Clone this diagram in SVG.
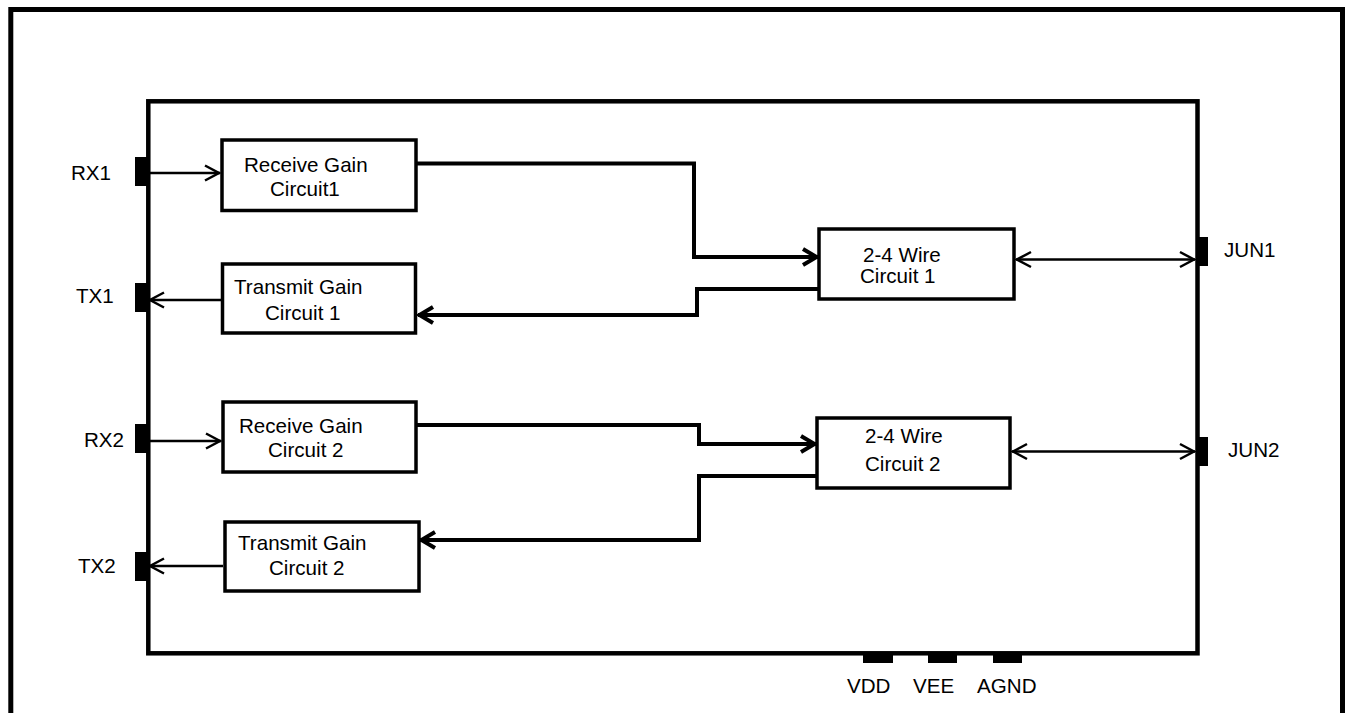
<svg xmlns="http://www.w3.org/2000/svg" width="1346" height="713" viewBox="0 0 1346 713">
<style>
text{font-family:"Liberation Sans",Arial,sans-serif;font-size:20.6px;fill:#000}
.box{fill:#fff;stroke:#000;stroke-width:3.5}
.pin{fill:#000}
.thin{fill:none;stroke:#000;stroke-width:2.5}
.thick{fill:none;stroke:#000;stroke-width:4;stroke-linejoin:miter}
</style>
<defs>
<marker id="aThin" markerUnits="userSpaceOnUse" markerWidth="24" markerHeight="24" viewBox="-20 -12 24 24" refX="0" refY="0" orient="auto-start-reverse">
<path d="M-15,-7.5 L-1,0 L-15,7.5" fill="none" stroke="#000" stroke-width="2.5"/>
</marker>
<marker id="aThick" markerUnits="userSpaceOnUse" markerWidth="24" markerHeight="24" viewBox="-20 -12 24 24" refX="0" refY="0" orient="auto-start-reverse">
<path d="M-15,-8 L-1.5,0 L-15,8" fill="none" stroke="#000" stroke-width="4"/>
</marker>
</defs>
<rect width="1346" height="713" fill="#fff"/>
<path d="M10.8,716 V9.5 H1342.5 V716" fill="none" stroke="#000" stroke-width="5"/>
<rect id="chip" x="148.3" y="101.3" width="1049.2" height="552" fill="none" stroke="#000" stroke-width="4.5"/>

<g id="pins">
<rect class="pin" x="135" y="157" width="13" height="29"/>
<rect class="pin" x="135" y="283" width="13" height="29"/>
<rect class="pin" x="135" y="424" width="13" height="29"/>
<rect class="pin" x="135" y="552" width="13" height="29"/>
<rect class="pin" x="1197" y="237" width="11" height="29"/>
<rect class="pin" x="1197" y="437" width="11" height="29"/>
<rect class="pin" x="863" y="653" width="30" height="10"/>
<rect class="pin" x="928" y="653" width="29" height="10"/>
<rect class="pin" x="993" y="653" width="29" height="10"/>
</g>
<g id="pin-labels">
<text x="71" y="180">RX1</text>
<text x="76" y="303">TX1</text>
<text x="84" y="447">RX2</text>
<text x="78" y="573">TX2</text>
<text x="1224" y="257">JUN1</text>
<text x="1228" y="457">JUN2</text>
<text x="847" y="693">VDD</text>
<text x="913" y="693">VEE</text>
<text x="977" y="693">AGND</text>
</g>

<g id="connectors">
<path class="thin" d="M148,173 H220" marker-end="url(#aThin)"/>
<path class="thin" d="M221,300 H149" marker-end="url(#aThin)"/>
<path class="thin" d="M148,441 H221" marker-end="url(#aThin)"/>
<path class="thin" d="M223,566 H149" marker-end="url(#aThin)"/>
<path class="thin" d="M1016,259.5 H1195" marker-start="url(#aThin)" marker-end="url(#aThin)"/>
<path class="thin" d="M1012,451.5 H1195" marker-start="url(#aThin)" marker-end="url(#aThin)"/>
<path class="thick" d="M416,163.5 H694 V257 H818" marker-end="url(#aThick)"/>
<path class="thick" d="M819,289 H697 V315 H418" marker-end="url(#aThick)"/>
<path class="thick" d="M416,425 H699 V444 H816" marker-end="url(#aThick)"/>
<path class="thick" d="M817,476 H699 V540 H420" marker-end="url(#aThick)"/>
</g>

<g id="rg1">
<rect class="box" x="222" y="140" width="194" height="70.5"/>
<text x="244" y="172">Receive Gain</text>
<text x="270" y="196">Circuit1</text>
</g>
<g id="tg1">
<rect class="box" x="222.5" y="264" width="193" height="69"/>
<text x="234" y="294">Transmit Gain</text>
<text x="265" y="320">Circuit 1</text>
</g>
<g id="w1">
<rect class="box" x="819" y="229" width="195" height="70"/>
<text x="863" y="262">2-4 Wire</text>
<text x="860" y="283">Circuit 1</text>
</g>
<g id="rg2">
<rect class="box" x="223" y="402" width="193" height="70"/>
<text x="239" y="433">Receive Gain</text>
<text x="268" y="457">Circuit 2</text>
</g>
<g id="tg2">
<rect class="box" x="225" y="522" width="194" height="69"/>
<text x="238" y="550">Transmit Gain</text>
<text x="269" y="575">Circuit 2</text>
</g>
<g id="w2">
<rect class="box" x="817" y="418" width="193" height="70"/>
<text x="865" y="443">2-4 Wire</text>
<text x="865" y="471">Circuit 2</text>
</g>
</svg>
